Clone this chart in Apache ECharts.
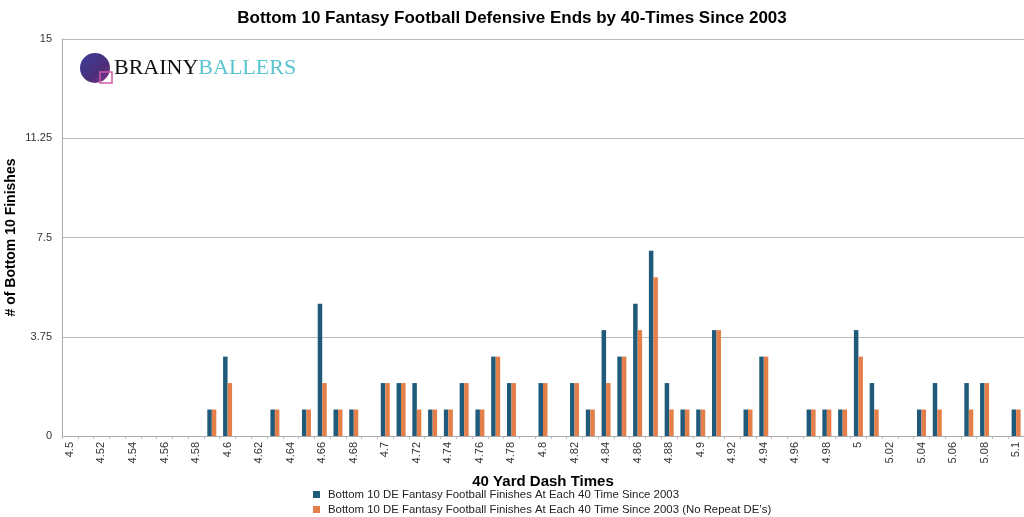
<!DOCTYPE html>
<html>
<head>
<meta charset="utf-8">
<script src="https://cdn.jsdelivr.net/npm/echarts@6/dist/echarts.min.js"></script>
<style>
html,body{margin:0;padding:0;background:#fff;}
#chart{width:1024px;height:517px;}
</style>
</head>
<body>
<div id="chart"></div>
<script>
const categories = ["4.5","4.51","4.52","4.53","4.54","4.55","4.56","4.57","4.58","4.59",
"4.6","4.61","4.62","4.63","4.64","4.65","4.66","4.67","4.68","4.69",
"4.7","4.71","4.72","4.73","4.74","4.75","4.76","4.77","4.78","4.79",
"4.8","4.81","4.82","4.83","4.84","4.85","4.86","4.87","4.88","4.89",
"4.9","4.91","4.92","4.93","4.94","4.95","4.96","4.97","4.98","4.99",
"5","5.01","5.02","5.03","5.04","5.05","5.06","5.07","5.08","5.09","5.1"];
const allFinishes = [0,0,0,0,0,0,0,0,0,1,
3,0,0,1,0,1,5,1,1,0,
2,2,2,1,1,2,1,3,2,0,
2,0,2,1,4,3,5,7,2,1,
1,4,0,1,3,0,0,1,1,1,
4,2,0,0,1,2,0,2,2,0,1];
const noRepeatFinishes = [0,0,0,0,0,0,0,0,0,1,
2,0,0,1,0,1,2,1,1,0,
2,2,1,1,1,2,1,3,2,0,
2,0,2,1,2,3,4,6,1,1,
1,4,0,1,3,0,0,1,1,1,
3,1,0,0,1,1,0,1,2,0,1];
const yTicks = [0, 3.75, 7.5, 11.25, 15];
const seriesNames = ["Bottom 10 DE Fantasy Football Finishes At Each 40 Time Since 2003",
"Bottom 10 DE Fantasy Football Finishes At Each 40 Time Since 2003 (No Repeat DE\u2019s)"];

const chart = echarts.init(document.getElementById('chart'));
const font = 'Helvetica, Arial, "Liberation Sans", sans-serif';
chart.setOption({
  animation: false,
  textStyle: {fontFamily: font},
  title: {
    text: 'Bottom 10 Fantasy Football Defensive Ends by 40-Times Since 2003',
    left: 'center', top: 5,
    textStyle: {fontSize: 17, fontWeight: 'bold', color: '#000', fontFamily: font}
  },
  legend: {
    orient: 'vertical', left: 313, top: 489, itemGap: 4, padding: 0, height: 40,
    itemWidth: 7, itemHeight: 7, icon: 'rect',
    textStyle: {fontSize: 11.4, color: '#222', fontFamily: font, padding: [0,0,0,3]},
    data: seriesNames
  },
  grid: {left: 62, right: 0, top: 39, bottom: 81, containLabel: false, outerBoundsMode: 'none'},
  xAxis: {
    type: 'category', data: categories, boundaryGap: true,
    name: '40 Yard Dash Times', nameLocation: 'middle', nameGap: 38,
    nameTextStyle: {fontSize: 15, fontWeight: 'bold', color: '#000'},
    axisLine: {lineStyle: {color: '#aaa'}},
    axisTick: {show: true, interval: 0, length: 3, lineStyle: {color: '#bbb'}},
    axisLabel: {interval: 1, rotate: 90, fontSize: 11, color: '#333', margin: 6}
  },
  yAxis: {
    type: 'value', min: 0, max: 15, interval: 3.75,
    name: '# of Bottom 10 Finishes', nameLocation: 'middle', nameGap: 44, nameMoveOverlap: false,
    nameTextStyle: {fontSize: 14, fontWeight: 'bold', color: '#000'},
    axisLine: {show: true, lineStyle: {color: '#aaa'}},
    axisTick: {show: false},
    splitLine: {lineStyle: {color: '#bbb'}},
    axisLabel: {fontSize: 11, color: '#333', margin: 10, formatter: v => yTicks.includes(v) ? String(v) : ''}
  },
  series: [
    {name: seriesNames[0], type: 'bar', data: allFinishes, barWidth: 4.5, barGap: '0%',
     itemStyle: {color: '#1f5a7a'}},
    {name: seriesNames[1], type: 'bar', data: noRepeatFinishes, barWidth: 4.5,
     itemStyle: {color: '#e47f4a'}}
  ],
  graphic: [
    {type: 'circle', shape: {cx: 95, cy: 68, r: 15},
     style: {fill: new echarts.graphic.LinearGradient(0,0,1,1,[{offset:0,color:'#3b3f9a'},{offset:0.6,color:'#4a2f7a'},{offset:1,color:'#8a2f8a'}])}},
    {type: 'rect', shape: {x: 100, y: 72, width: 12, height: 11},
     style: {fill: 'none', stroke: '#d25aa8', lineWidth: 1.5}},
    {type: 'text', left: 114, top: 57,
     style: {text: '{a|BRAINY}{b|BALLERS}',
       rich: {
         a: {fontFamily: '"Liberation Serif", "Times New Roman", serif', fontSize: 22, fill: '#111', color: '#111'},
         b: {fontFamily: '"Liberation Serif", "Times New Roman", serif', fontSize: 22, fill: '#5bc4d0', color: '#5bc4d0'}
       }}}
  ]
});
</script>
</body>
</html>
